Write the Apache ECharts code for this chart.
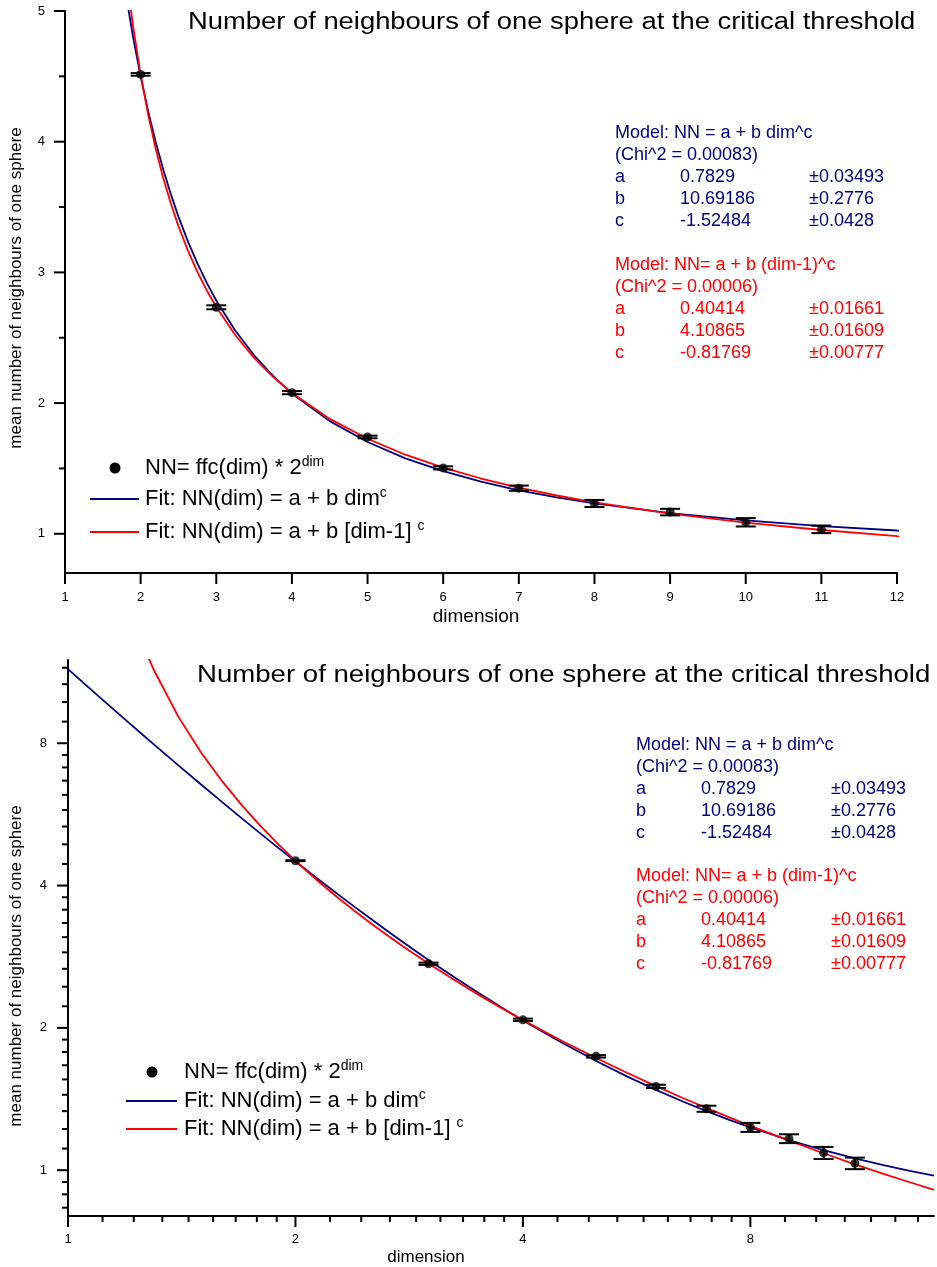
<!DOCTYPE html>
<html><head><meta charset="utf-8">
<script src="https://cdn.jsdelivr.net/npm/echarts@6/dist/echarts.min.js"></script>
<style>html,body{margin:0;padding:0;background:#fff}#c{width:937px;height:1267px}</style>
</head><body><div id="c"></div>
<script>
// ---- data ----
const dims = [2, 3, 4, 5, 6, 7, 8, 9, 10, 11];
const nnValues = [4.515, 2.733, 2.080, 1.741, 1.504, 1.349, 1.232, 1.166, 1.088, 1.034];
const nnErrors = [0.010, 0.015, 0.012, 0.010, 0.012, 0.020, 0.027, 0.025, 0.032, 0.029];

const fitX = [1, 1.1, 1.2, 1.25, 1.3, 1.4, 1.5, 1.6, 1.7, 1.8, 1.9, 2, 2.1, 2.2, 2.3, 2.4, 2.5, 2.625, 2.75, 2.875, 3, 3.25, 3.5, 3.75, 4, 4.5, 5, 5.5, 6, 6.5, 7, 7.5, 8, 9, 10, 11, 12, 13, 14];
const fitBlue = [11.475, 10.029, 8.880, 8.391, 7.949, 7.184, 6.544, 6.004, 5.543, 5.146, 4.801, 4.499, 4.232, 3.996, 3.785, 3.597, 3.427, 3.237, 3.069, 2.920, 2.785, 2.555, 2.366, 2.208, 2.074, 1.862, 1.702, 1.577, 1.479, 1.399, 1.333, 1.278, 1.232, 1.158, 1.102, 1.059, 1.025, 0.997, 0.974];
const fitRed = [null, 27.41, 15.72, 13.17, 11.40, 9.096, 7.646, 6.643, 5.904, 5.335, 4.882, 4.513, 4.205, 3.944, 3.719, 3.525, 3.353, 3.167, 3.004, 2.861, 2.735, 2.521, 2.346, 2.201, 2.077, 1.879, 1.727, 1.605, 1.506, 1.423, 1.354, 1.293, 1.241, 1.155, 1.086, 1.029, 0.982, 0.943, 0.909];

const linXTicks = [1, 2, 3, 4, 5, 6, 7, 8, 9, 10, 11, 12];
const linYMajor = [1, 2, 3, 4, 5];
const linYMinor = [1.5, 2.5, 3.5, 4.5];
const logMajor = [1, 2, 4, 8];
const logXMinor = [1.111, 1.222, 1.333, 1.444, 1.556, 1.667, 1.778, 1.889,
  2.222, 2.444, 2.667, 2.889, 3.111, 3.333, 3.556, 3.778,
  4.444, 4.889, 5.333, 5.778, 6.222, 6.667, 7.111, 7.556,
  8.889, 9.778, 10.667, 11.556, 12.444, 13.333];
const logYMinor = [0.833, 0.889, 0.944,
  1.111, 1.222, 1.333, 1.444, 1.556, 1.667, 1.778, 1.889,
  2.222, 2.444, 2.667, 2.889, 3.111, 3.333, 3.556, 3.778,
  4.444, 4.889, 5.333, 5.778, 6.222, 6.667, 7.111, 7.556,
  8.889, 9.778, 10.667, 11.556];

const titleText = 'Number of neighbours of one sphere at the critical threshold';
const xName = 'dimension';
const yName = 'mean number of neighbours of one sphere';
const blueModelHead = ['Model: NN = a + b dim^c', '(Chi^2 = 0.00083)'];
const blueModelRows = [['a', '0.7829', '\u00b10.03493'], ['b', '10.69186', '\u00b10.2776'], ['c', '-1.52484', '\u00b10.0428']];
const redModelHead = ['Model: NN= a + b (dim-1)^c', '(Chi^2 = 0.00006)'];
const redModelRows = [['a', '0.40414', '\u00b10.01661'], ['b', '4.10865', '\u00b10.01609'], ['c', '-0.81769', '\u00b10.00777']];

// ---- build ----
const FONT = '"Liberation Sans", Arial, Helvetica, sans-serif';
const NAVY = '#000080', RED = '#ff0000';
const axisMinX = [1, 1], axisMinY = [0.7, 0.8];

const blueData = fitX.map((x, i) => [x, fitBlue[i]]);
const redData = fitX.map((x, i) => [x, fitRed[i]]).filter(p => p[1] != null);
const pointData = dims.map((d, i) => [d, nnValues[i]]);
const errData = dims.map((d, i) => [d, nnValues[i], nnErrors[i]]);

function tickSeries(gi, axis, major, minor) {
  const data = major.map(v => [v, 2]).concat(minor.map(v => [v, 1]));
  return {
    type: 'custom', xAxisIndex: gi, yAxisIndex: gi, clip: false, silent: true, z: 6,
    encode: axis === 'x' ? { x: 0, y: 1 } : { y: 0, x: 1 },
    data: data,
    renderItem: function (params, api) {
      const cs = params.coordSys;
      const v = api.value(0);
      const len = api.value(1) === 2 ? 11 : 6;
      if (axis === 'x') {
        const px = api.coord([v, axisMinY[gi]])[0];
        const y0 = cs.y + cs.height;
        return { type: 'line', shape: { x1: px, y1: y0, x2: px, y2: y0 + len }, style: { stroke: '#000', lineWidth: 2 } };
      } else {
        const py = api.coord([axisMinX[gi], v])[1];
        return { type: 'line', shape: { x1: cs.x, y1: py, x2: cs.x - len, y2: py }, style: { stroke: '#000', lineWidth: 2 } };
      }
    }
  };
}

function errSeries(gi) {
  return {
    type: 'custom', xAxisIndex: gi, yAxisIndex: gi, z: 4, silent: true,
    encode: { x: 0, y: 1 },
    data: errData,
    renderItem: function (params, api) {
      const x = api.value(0), y = api.value(1), e = api.value(2);
      const lo = api.coord([x, y - e]), hi = api.coord([x, y + e]);
      const w = 10, st = { stroke: '#000', lineWidth: 2 };
      return { type: 'group', children: [
        { type: 'line', shape: { x1: lo[0], y1: lo[1], x2: hi[0], y2: hi[1] }, style: st },
        { type: 'line', shape: { x1: lo[0] - w, y1: lo[1], x2: lo[0] + w, y2: lo[1] }, style: st },
        { type: 'line', shape: { x1: hi[0] - w, y1: hi[1], x2: hi[0] + w, y2: hi[1] }, style: st }
      ] };
    }
  };
}

function chartSeries(gi) {
  return [
    { type: 'line', xAxisIndex: gi, yAxisIndex: gi, data: blueData, showSymbol: false, symbol: 'none', smooth: false,
      lineStyle: { color: NAVY, width: 1.8 }, itemStyle: { color: NAVY }, z: 2, silent: true, clip: true },
    { type: 'line', xAxisIndex: gi, yAxisIndex: gi, data: redData, showSymbol: false, symbol: 'none', smooth: false,
      lineStyle: { color: RED, width: 1.8 }, itemStyle: { color: RED }, z: 3, silent: true, clip: true },
    errSeries(gi),
    { type: 'scatter', xAxisIndex: gi, yAxisIndex: gi, data: pointData, symbol: 'circle', symbolSize: 9,
      itemStyle: { color: '#000' }, z: 5, silent: true }
  ];
}

const axisLineStyle = { onZero: false, lineStyle: { color: '#000', width: 2 } };
const labelStyle = { color: '#000', fontSize: 13, fontFamily: FONT };

// legend + annotation graphics
function richLegend(x, y, main, sup) {
  return { type: 'text', x: x, y: y, silent: true, style: {
    text: '{m|' + main + '}{s|' + sup + '}',
    verticalAlign: 'middle', textVerticalAlign: 'middle', align: 'left', textAlign: 'left',
    rich: {
      m: { fontSize: 22, fontFamily: FONT, fill: '#000', color: '#000', lineHeight: 26 },
      s: { fontSize: 14, fontFamily: FONT, fill: '#000', color: '#000', lineHeight: 14, verticalAlign: 'top' }
    }
  } };
}
function legendGroup(dotX, lineX1, lineX2, textX, rows) {
  return [
    { type: 'circle', silent: true, shape: { cx: dotX, cy: rows[0], r: 5.5 }, style: { fill: '#000' } },
    { type: 'line', silent: true, shape: { x1: lineX1, y1: rows[1], x2: lineX2, y2: rows[1] }, style: { stroke: NAVY, lineWidth: 2 } },
    { type: 'line', silent: true, shape: { x1: lineX1, y1: rows[2], x2: lineX2, y2: rows[2] }, style: { stroke: RED, lineWidth: 2 } },
    richLegend(textX, rows[0], 'NN= ffc(dim) * 2', 'dim'),
    richLegend(textX, rows[1], 'Fit: NN(dim) = a + b dim', 'c'),
    richLegend(textX, rows[2], 'Fit: NN(dim) = a + b [dim-1] ', 'c')
  ];
}
function txt(x, y, s, color, size) {
  return { type: 'text', x: x, y: y, silent: true, style: { text: s, fill: color, font: size + 'px ' + FONT,
    verticalAlign: 'middle', textVerticalAlign: 'middle', align: 'left', textAlign: 'left' } };
}
function annotation(x0, x1, x2, yBlue, yRed, step) {
  const out = [];
  blueModelHead.forEach((s, i) => out.push(txt(x0, yBlue + i * step, s, NAVY, 18)));
  blueModelRows.forEach((r, i) => {
    const y = yBlue + (i + 2) * step;
    out.push(txt(x0, y, r[0], NAVY, 18), txt(x1, y, r[1], NAVY, 18), txt(x2, y, r[2], NAVY, 18));
  });
  redModelHead.forEach((s, i) => out.push(txt(x0, yRed + i * step, s, RED, 18)));
  redModelRows.forEach((r, i) => {
    const y = yRed + (i + 2) * step;
    out.push(txt(x0, y, r[0], RED, 18), txt(x1, y, r[1], RED, 18), txt(x2, y, r[2], RED, 18));
  });
  return out;
}
function title(x, y, sx) {
  return { type: 'text', x: x, y: y, scaleX: sx, silent: true, style: { text: titleText, fill: '#000', font: '23px ' + FONT,
    verticalAlign: 'middle', textVerticalAlign: 'middle', align: 'left', textAlign: 'left' } };
}

const graphics = [].concat(
  [title(188, 23, 1.19), title(197, 676, 1.2)],
  legendGroup(115, 90, 139, 145, [468, 499, 532]),
  legendGroup(152, 126, 177, 184, [1072, 1101, 1129]),
  annotation(615, 680, 809, 133, 265, 22),
  annotation(636, 701, 831, 745, 876, 22)
);

const option = {
  animation: false,
  backgroundColor: '#fff',
  textStyle: { fontFamily: FONT, color: '#000' },
  grid: [
    { left: 65, top: 11, width: 832, height: 562, containLabel: false, outerBoundsMode: 'none' },
    { left: 68, top: 660, width: 866, height: 556, containLabel: false, outerBoundsMode: 'none' }
  ],
  xAxis: [
    { gridIndex: 0, type: 'value', min: 1, max: 12, interval: 1,
      axisLine: axisLineStyle, axisTick: { show: false }, splitLine: { show: false },
      axisLabel: Object.assign({ margin: 18 }, labelStyle),
      name: xName, nameLocation: 'middle', nameGap: 34,
      nameTextStyle: { fontSize: 19, color: '#000', fontFamily: FONT, padding: [0, 10, 0, 0] } },
    { gridIndex: 1, type: 'log', logBase: 2, min: 1, max: 14,
      axisLine: axisLineStyle, axisTick: { show: false }, splitLine: { show: false }, minorTick: { show: false },
      axisLabel: Object.assign({ margin: 17, showMaxLabel: false }, labelStyle),
      name: xName, nameLocation: 'middle', nameGap: 33,
      nameTextStyle: { fontSize: 17, color: '#000', fontFamily: FONT, padding: [0, 150, 0, 0] } }
  ],
  yAxis: [
    { gridIndex: 0, type: 'value', min: 0.7, max: 5,
      axisLine: axisLineStyle, axisTick: { show: false }, splitLine: { show: false },
      axisLabel: Object.assign({ margin: 20, showMinLabel: false }, labelStyle),
      name: yName, nameLocation: 'middle', nameGap: 40, nameRotate: 90,
      nameTextStyle: { fontSize: 17, color: '#000', fontFamily: FONT, padding: [0, 0, 0, 8] } },
    { gridIndex: 1, type: 'log', logBase: 2, min: 0.8, max: 12,
      axisLine: axisLineStyle, axisTick: { show: false }, splitLine: { show: false }, minorTick: { show: false },
      axisLabel: Object.assign({ margin: 21, showMinLabel: false, showMaxLabel: false }, labelStyle),
      name: yName, nameLocation: 'middle', nameGap: 43, nameRotate: 90,
      nameTextStyle: { fontSize: 17, color: '#000', fontFamily: FONT, padding: [0, 56, 0, 0] } }
  ],
  series: [].concat(
    chartSeries(0), chartSeries(1),
    [tickSeries(0, 'x', linXTicks, []), tickSeries(0, 'y', linYMajor, linYMinor),
     tickSeries(1, 'x', logMajor, logXMinor), tickSeries(1, 'y', logMajor, logYMinor)]
  ),
  graphic: { elements: graphics }
};

const chart = echarts.init(document.getElementById('c'), null, { renderer: 'canvas' });
chart.setOption(option);
</script>
</body></html>
